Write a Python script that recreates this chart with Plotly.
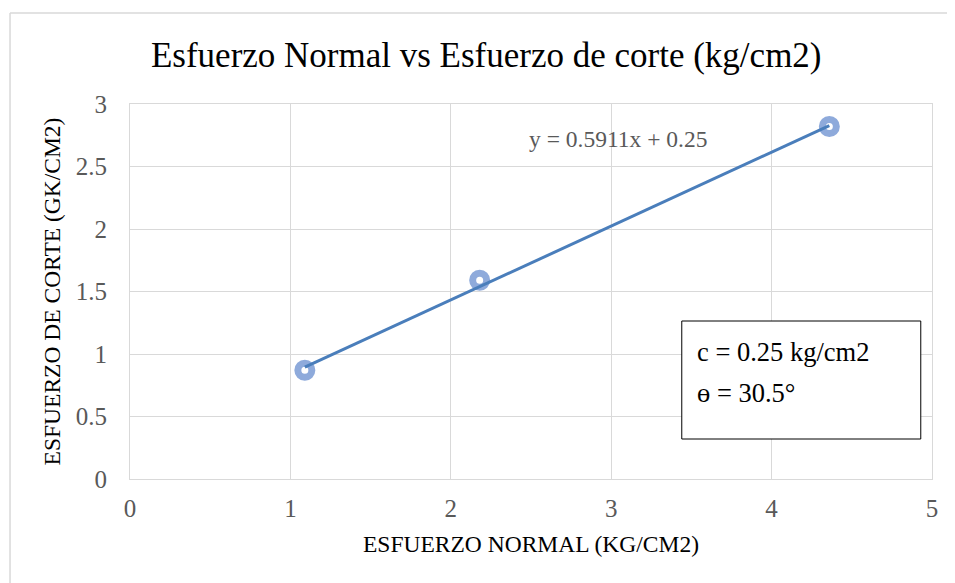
import plotly.graph_objects as go

# Datos
esfuerzo_normal = [1.09, 2.18, 4.36]
esfuerzo_corte = [0.87, 1.59, 2.82]

# Linea de tendencia mostrada en el grafico
pendiente = 0.5911
intercepto = 0.25
x_tend = [min(esfuerzo_normal), max(esfuerzo_normal)]
y_tend = [pendiente * v + intercepto for v in x_tend]

cohesion = 0.25
angulo = 30.5

serif = "Liberation Serif"

fig = go.Figure()
fig.add_trace(go.Scatter(x=esfuerzo_normal, y=esfuerzo_corte, mode="markers",
                         marker=dict(symbol="circle-open", size=14, color="#8eaadb",
                                     line=dict(width=7, color="#8eaadb")),
                         showlegend=False, hoverinfo="x+y"))
fig.add_trace(go.Scatter(x=x_tend, y=y_tend, mode="lines",
                         line=dict(color="#4a7ebb", width=3),
                         showlegend=False))

fig.update_layout(
    width=947, height=575,
    margin=dict(l=122, r=23, t=96, b=104),
    paper_bgcolor="white", plot_bgcolor="white",
    font=dict(family=serif, color="#595959"),
    title=dict(text="Esfuerzo Normal vs Esfuerzo de corte (kg/cm2)",
               x=0.505, xanchor="center", y=0.918, yanchor="middle",
               font=dict(size=35, color="black", family=serif)),
    xaxis=dict(range=[0, 5], dtick=1, showgrid=True, gridcolor="#d9d9d9", gridwidth=1,
               showline=True, linecolor="#d9d9d9", mirror=True, zeroline=False,
               tickfont=dict(size=25, color="#595959", family=serif), ticklabelstandoff=7,
               title=dict(text="ESFUERZO NORMAL (KG/CM2)", standoff=14,
                          font=dict(size=23.5, color="black", family=serif))),
    yaxis=dict(range=[0, 3], dtick=0.5, showgrid=True, gridcolor="#d9d9d9", gridwidth=1,
               showline=True, linecolor="#d9d9d9", mirror=True, zeroline=False,
               tickfont=dict(size=25, color="#595959", family=serif), ticklabelstandoff=17,
               title=dict(text="ESFUERZO DE CORTE (GK/CM2)", standoff=8,
                          font=dict(size=23.5, color="black", family=serif))),
)

# borde exterior del grafico (solo se ve arriba y a la izquierda)
fig.add_shape(type="line", xref="paper", yref="paper",
              x0=-0.1496, x1=1.3, y0=1.2427, y1=1.2427,
              line=dict(color="#d9d9d9", width=1.5), layer="below")
fig.add_shape(type="line", xref="paper", yref="paper",
              x0=-0.1496, x1=-0.1496, y0=-0.5, y1=1.2427,
              line=dict(color="#d9d9d9", width=1.5), layer="below")

# ecuacion de la tendencia
fig.add_annotation(x=3.04, y=2.72, xref="x", yref="y",
                   text=f"y = {pendiente}x + {intercepto}", showarrow=False,
                   font=dict(size=23.5, color="#595959", family=serif))

# cuadro con resultados
fig.add_shape(type="rect", xref="x", yref="y",
              x0=3.44, x1=4.93, y0=0.32, y1=1.264,
              line=dict(color="black", width=1), fillcolor="white")
fig.add_annotation(x=3.52, y=1.02, xref="x", yref="y", xanchor="left",
                   text=f"c = {cohesion} kg/cm2", showarrow=False,
                   font=dict(size=26.5, color="black", family=serif))
fig.add_annotation(x=3.52, y=0.69, xref="x", yref="y", xanchor="left",
                   text=f"ɵ = {angulo}°", showarrow=False,
                   font=dict(size=26.5, color="black", family=serif))

fig.write_html("out.html")
